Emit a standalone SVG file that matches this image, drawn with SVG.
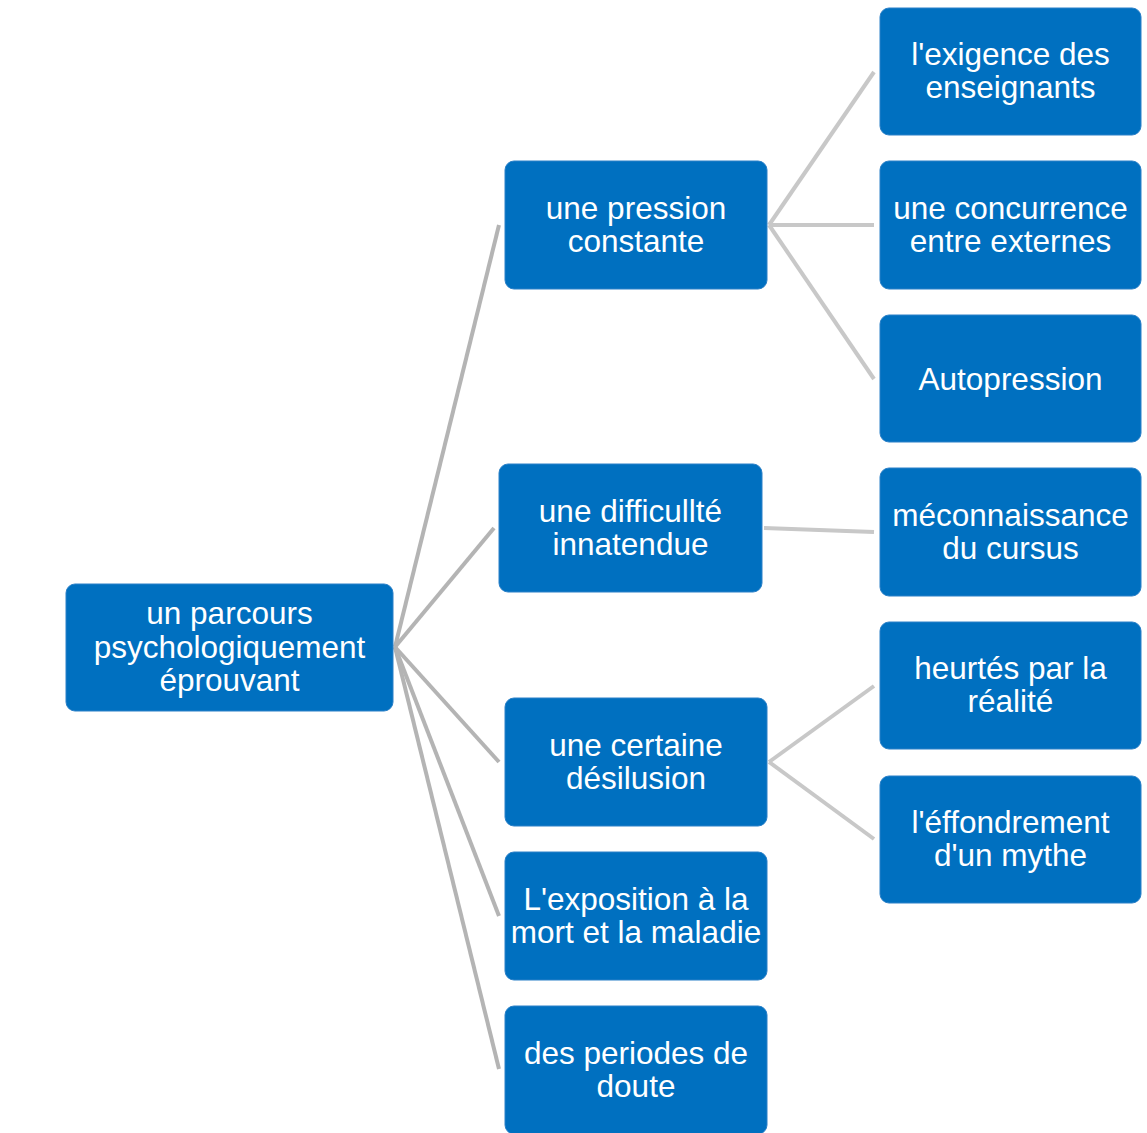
<svg xmlns="http://www.w3.org/2000/svg" width="1147" height="1133" viewBox="0 0 1147 1133">
<style>
.box{fill:#0070c0;stroke:#2a80c8;stroke-width:1}
.t{font-family:"Liberation Sans",Arial,sans-serif;font-size:31.5px;fill:#ffffff;text-anchor:middle}
.c1{stroke:#b4b4b4;stroke-width:4;fill:none}
.c2{stroke:#c8c8c8;stroke-width:4;fill:none}
</style>
<rect width="1147" height="1133" fill="#ffffff"/>
<g id="connectors">
<line class="c1" x1="395" y1="647" x2="499" y2="225"/>
<line class="c1" x1="395" y1="647" x2="494" y2="528"/>
<line class="c1" x1="395" y1="647" x2="499" y2="762"/>
<line class="c1" x1="395" y1="647" x2="499" y2="916"/>
<line class="c1" x1="395" y1="647" x2="499" y2="1069"/>
<line class="c2" x1="769" y1="225" x2="874" y2="72"/>
<line class="c2" x1="769" y1="225" x2="874" y2="225"/>
<line class="c2" x1="769" y1="225" x2="874" y2="379"/>
<line class="c2" x1="764" y1="528" x2="874" y2="532"/>
<line class="c2" x1="769" y1="762" x2="874" y2="686"/>
<line class="c2" x1="769" y1="762" x2="874" y2="839"/>
</g>
<g id="root">
<rect class="box" x="66" y="584" width="327" height="127" rx="9"/>
<text class="t" x="229.5" y="624">un parcours</text>
<text class="t" x="229.5" y="658">psychologiquement</text>
<text class="t" x="229.5" y="691">éprouvant</text>
</g>
<g id="pression">
<rect class="box" x="505" y="161" width="262" height="128" rx="9"/>
<text class="t" x="636" y="219">une pression</text>
<text class="t" x="636" y="252">constante</text>
</g>
<g id="difficulte">
<rect class="box" x="499" y="464" width="263" height="128" rx="9"/>
<text class="t" x="630.5" y="522">une difficullté</text>
<text class="t" x="630.5" y="555">innatendue</text>
</g>
<g id="desilusion">
<rect class="box" x="505" y="698" width="262" height="128" rx="9"/>
<text class="t" x="636" y="756">une certaine</text>
<text class="t" x="636" y="789">désilusion</text>
</g>
<g id="exposition">
<rect class="box" x="505" y="852" width="262" height="128" rx="9"/>
<text class="t" x="636" y="910">L'exposition à la</text>
<text class="t" x="636" y="943">mort et la maladie</text>
</g>
<g id="doute">
<rect class="box" x="505" y="1006" width="262" height="128" rx="9"/>
<text class="t" x="636" y="1064">des periodes de</text>
<text class="t" x="636" y="1097">doute</text>
</g>
<g id="exigence">
<rect class="box" x="880" y="8" width="261" height="127" rx="9"/>
<text class="t" x="1010.5" y="65">l'exigence des</text>
<text class="t" x="1010.5" y="98">enseignants</text>
</g>
<g id="concurrence">
<rect class="box" x="880" y="161" width="261" height="128" rx="9"/>
<text class="t" x="1010.5" y="219">une concurrence</text>
<text class="t" x="1010.5" y="252">entre externes</text>
</g>
<g id="autopression">
<rect class="box" x="880" y="315" width="261" height="127" rx="9"/>
<text class="t" x="1010.5" y="390">Autopression</text>
</g>
<g id="meconnaissance">
<rect class="box" x="880" y="468" width="261" height="128" rx="9"/>
<text class="t" x="1010.5" y="526">méconnaissance</text>
<text class="t" x="1010.5" y="559">du cursus</text>
</g>
<g id="heurtes">
<rect class="box" x="880" y="622" width="261" height="127" rx="9"/>
<text class="t" x="1010.5" y="679">heurtés par la</text>
<text class="t" x="1010.5" y="712">réalité</text>
</g>
<g id="effondrement">
<rect class="box" x="880" y="776" width="261" height="127" rx="9"/>
<text class="t" x="1010.5" y="833">l'éffondrement</text>
<text class="t" x="1010.5" y="866">d'un mythe</text>
</g>
</svg>
